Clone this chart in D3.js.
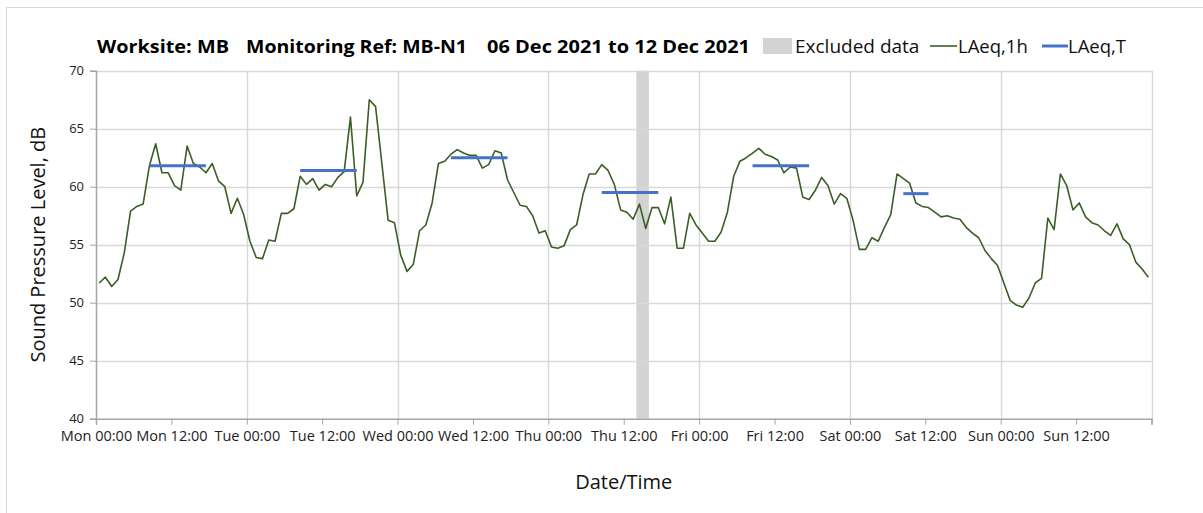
<!DOCTYPE html>
<html>
<head>
<meta charset="utf-8">
<script src="https://cdn.jsdelivr.net/npm/d3@7"></script>
<style>
  body { margin: 0; background: #fff; }
  text { font-family: "Open Sans", sans-serif; }
</style>
</head>
<body>
<script>
// hourly LAeq,1h values, Mon 06 Dec 2021 00:00 onwards
var laeq1h = [
  51.7, 52.2, 51.4, 52.0, 54.3, 57.9, 58.3, 58.5, 61.8, 63.7, 61.2, 61.2,
  60.1, 59.7, 63.5, 62.0, 61.7, 61.2, 62.0, 60.5, 60.0, 57.7, 59.0, 57.6,
  55.3, 53.9, 53.8, 55.4, 55.3, 57.7, 57.7, 58.1, 60.9, 60.2, 60.7, 59.7,
  60.2, 60.0, 60.8, 61.3, 66.0, 59.2, 60.4, 67.5, 66.9, 62.0, 57.1, 56.9,
  54.1, 52.7, 53.3, 56.2, 56.7, 58.6, 62.0, 62.2, 62.8, 63.2, 62.9, 62.7,
  62.7, 61.6, 61.9, 63.1, 62.9, 60.6, 59.5, 58.4, 58.3, 57.5, 56.0, 56.2,
  54.8, 54.7, 54.9, 56.3, 56.7, 59.3, 61.1, 61.1, 61.9, 61.4, 60.2, 58.0,
  57.8, 57.2, 58.5, 56.4, 58.2, 58.2, 56.8, 59.1, 54.7, 54.7, 57.7, 56.7,
  56.0, 55.3, 55.3, 56.1, 57.8, 60.9, 62.2, 62.5, 62.9, 63.3, 62.8, 62.6,
  62.3, 61.2, 61.7, 61.6, 59.1, 58.9, 59.7, 60.8, 60.1, 58.5, 59.4, 59.0,
  57.1, 54.6, 54.6, 55.6, 55.3, 56.5, 57.6, 61.1, 60.7, 60.3, 58.6, 58.3,
  58.2, 57.8, 57.4, 57.5, 57.3, 57.2, 56.5, 56.0, 55.6, 54.5, 53.8, 53.2,
  51.7, 50.2, 49.8, 49.6, 50.4, 51.7, 52.1, 57.3, 56.3, 61.1, 60.1, 58.0,
  58.6, 57.4, 56.9, 56.7, 56.2, 55.8, 56.8, 55.5, 55.0, 53.5, 52.9, 52.2
];

// LAeq,T daytime periods (hour index from Mon 00:00)
var periodStart = [8, 32, 56, 80, 104, 128];
var periodEnd = [17, 41, 65, 89, 113, 132];
var periodValue = [61.8, 61.4, 62.5, 59.5, 61.8, 59.4];

// excluded data (hour index)
var excludedStart = [86];
var excludedEnd = [88];

var yTicks = [40, 45, 50, 55, 60, 65, 70];

var width = 1203,
    height = 513;

var startDate = new Date(Date.UTC(2021, 11, 6, 0, 0));
var endDate = new Date(Date.UTC(2021, 11, 13, 0, 0));
var hourMs = 3600 * 1000;

function hourToDate(h) { return new Date(startDate.getTime() + h * hourMs); }

var greenColor = "#3b5e27",
    blueColor = "#4472c4",
    gridColor = "#d9d9d9",
    axisColor = "#a6a6a6",
    excludedColor = "#d3d3d3";

var svg = d3.select("body").append("svg")
    .attr("width", width)
    .attr("height", height);

// outer chart border
svg.append("rect")
    .attr("x", 6.5).attr("y", 7.5)
    .attr("width", width + 10).attr("height", height + 10)
    .attr("fill", "none").attr("stroke", gridColor);

var x = d3.scaleUtc().domain([startDate, endDate]).range([96, 1151.5]);
var y = d3.scaleLinear().domain([40, 70]).range([418.7, 70.7]);

// excluded band
svg.selectAll(".excluded")
    .data(excludedStart)
    .enter().append("rect")
    .attr("class", "excluded")
    .attr("x", function(d) { return x(hourToDate(d)); })
    .attr("y", y(70))
    .attr("width", function(d, i) { return x(hourToDate(excludedEnd[i])) - x(hourToDate(d)); })
    .attr("height", y(40) - y(70))
    .attr("fill", excludedColor);

// horizontal gridlines
svg.append("g")
    .selectAll("line")
    .data(yTicks.slice(1))
    .enter().append("line")
    .attr("x1", x(startDate)).attr("x2", x(endDate))
    .attr("y1", function(d) { return Math.round(y(d)) + 0.5; })
    .attr("y2", function(d) { return Math.round(y(d)) + 0.5; })
    .attr("stroke", gridColor).attr("stroke-width", 1.5);

// vertical gridlines at midnight
var dayTicks = d3.utcDay.range(d3.utcDay.offset(startDate, 1), d3.utcDay.offset(endDate, 1));
svg.append("g")
    .selectAll("line")
    .data(dayTicks)
    .enter().append("line")
    .attr("x1", function(d) { return Math.round(x(d)) + 0.5; })
    .attr("x2", function(d) { return Math.round(x(d)) + 0.5; })
    .attr("y1", y(70)).attr("y2", y(40))
    .attr("stroke", gridColor).attr("stroke-width", 1.5);

// y axis
var yAxis = svg.append("g")
    .attr("transform", "translate(" + (x(startDate)) + ",0)")
    .call(d3.axisLeft(y).tickValues(yTicks).tickSize(6).tickPadding(6).tickFormat(d3.format("d")));
yAxis.select(".domain").attr("stroke", axisColor).attr("stroke-width", 1.5);
yAxis.selectAll(".tick line").attr("stroke", axisColor);
yAxis.selectAll("text").attr("font-size", 13).attr("fill", "#222")
    .style("font-family", "'Open Sans', sans-serif");

// x axis
var xTicks = d3.utcHour.every(12).range(startDate, endDate);
var xAxis = svg.append("g")
    .attr("transform", "translate(0," + y(40) + ")")
    .call(d3.axisBottom(x).tickValues(xTicks.concat([endDate])).tickSize(6).tickPadding(6)
        .tickFormat(function(d) { return d.getTime() === endDate.getTime() ? "" : d3.utcFormat("%a %H:%M")(d); }));
xAxis.select(".domain").attr("stroke", axisColor).attr("stroke-width", 1.5);
xAxis.selectAll(".tick line").attr("stroke", axisColor);
xAxis.selectAll("text").attr("font-size", 14.5).attr("fill", "#222")
    .style("font-family", "'Open Sans', sans-serif");

// LAeq,1h line
var line = d3.line()
    .x(function(d, i) { return x(hourToDate(i + 0.5)); })
    .y(function(d) { return y(d); });

svg.append("path")
    .datum(laeq1h)
    .attr("d", line)
    .attr("fill", "none")
    .attr("stroke", greenColor)
    .attr("stroke-width", 1.6)
    .attr("stroke-linejoin", "round");

// LAeq,T segments
svg.selectAll(".period")
    .data(periodValue)
    .enter().append("line")
    .attr("class", "period")
    .attr("x1", function(d, i) { return x(hourToDate(periodStart[i] + 0.5)); })
    .attr("x2", function(d, i) { return x(hourToDate(periodEnd[i] + 0.5)); })
    .attr("y1", function(d) { return y(d); })
    .attr("y2", function(d) { return y(d); })
    .attr("stroke", blueColor)
    .attr("stroke-width", 3);

// axis titles
svg.append("text")
    .attr("transform", "translate(45," + ((y(40) + y(70)) / 2) + ") rotate(-90)")
    .attr("text-anchor", "middle")
    .attr("font-size", 20)
    .attr("fill", "#111")
    .text("Sound Pressure Level, dB");

svg.append("text")
    .attr("x", (x(startDate) + x(endDate)) / 2)
    .attr("y", 489)
    .attr("text-anchor", "middle")
    .attr("font-size", 20)
    .attr("fill", "#111")
    .text("Date/Time");

// title
var titleParts = [
  { text: "Worksite: MB", x: 97, w: 132 },
  { text: "Monitoring Ref: MB-N1", x: 246, w: 221 },
  { text: "06 Dec 2021 to 12 Dec 2021", x: 487, w: 263 }
];
svg.selectAll(".title")
    .data(titleParts)
    .enter().append("text")
    .attr("class", "title")
    .attr("x", function(d) { return d.x; })
    .attr("y", 53)
    .attr("font-size", 17.5)
    .attr("font-weight", "bold")
    .attr("fill", "#000")
    .attr("textLength", function(d) { return d.w; })
    .attr("lengthAdjust", "spacingAndGlyphs")
    .text(function(d) { return d.text; });

// legend
var legend = svg.append("g");
legend.append("rect")
    .attr("x", 763).attr("y", 38).attr("width", 29).attr("height", 16)
    .attr("fill", excludedColor);
legend.append("text")
    .attr("x", 795).attr("y", 53).attr("font-size", 19).attr("fill", "#111")
    .text("Excluded data");
legend.append("line")
    .attr("x1", 930).attr("x2", 957).attr("y1", 46).attr("y2", 46)
    .attr("stroke", greenColor).attr("stroke-width", 1.6);
legend.append("text")
    .attr("x", 958).attr("y", 53).attr("font-size", 18.5).attr("fill", "#111")
    .text("LAeq,1h");
legend.append("line")
    .attr("x1", 1042).attr("x2", 1068).attr("y1", 46).attr("y2", 46)
    .attr("stroke", blueColor).attr("stroke-width", 3);
legend.append("text")
    .attr("x", 1068).attr("y", 53).attr("font-size", 18.5).attr("fill", "#111")
    .text("LAeq,T");
</script>
</body>
</html>
